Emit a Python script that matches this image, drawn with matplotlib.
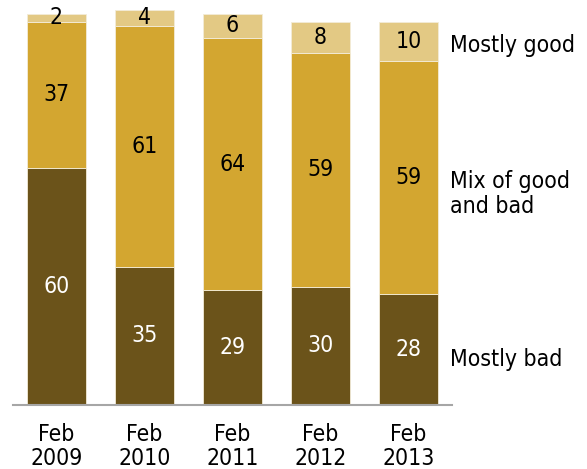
import matplotlib
matplotlib.use("Agg")
import matplotlib.pyplot as plt
from matplotlib import font_manager
import numpy as np

categories = ["Feb\n2009", "Feb\n2010", "Feb\n2011", "Feb\n2012", "Feb\n2013"]
mostly_bad = [60, 35, 29, 30, 28]
mix = [37, 61, 64, 59, 59]
mostly_good = [2, 4, 6, 8, 10]
series_labels = ["Mostly bad", "Mix of good\nand bad", "Mostly good"]

c_bad = "#6b531a"
c_mix = "#d3a630"
c_good = "#e3c984"

# use condensed DejaVu if installed
stretch = "normal"
fs = 15
for f in font_manager.fontManager.ttflist:
    if f.name == "DejaVu Sans" and f.stretch in ("condensed", "semi-condensed") and f.weight in (400, "normal") and f.style == "normal":
        stretch = "condensed"
        fs = 16.5
        break

plt.rcParams['font.family'] = ['DejaVu Sans']
plt.rcParams['font.stretch'] = stretch
fig = plt.figure(figsize=(5.87, 4.69), dpi=100)
ax = fig.add_axes([13/587, 64/469, 439/587, 395/469])

x = np.arange(len(categories))
w = 0.67
ax.bar(x, mostly_bad, w, color=c_bad, edgecolor="#f3ecd8", linewidth=0.6)
ax.bar(x, mix, w, bottom=mostly_bad, color=c_mix, edgecolor="#f3ecd8", linewidth=0.6)
bot3 = np.array(mostly_bad) + np.array(mix)
ax.bar(x, mostly_good, w, bottom=bot3, color=c_good, edgecolor="#f3ecd8", linewidth=0.6)

for i in range(len(x)):
    ax.text(x[i], mostly_bad[i] / 2, str(mostly_bad[i]),
            ha="center", va="center", color="white", fontsize=fs)
    ax.text(x[i], mostly_bad[i] + mix[i] / 2, str(mix[i]),
            ha="center", va="center", color="black", fontsize=fs)
    ax.text(x[i], bot3[i] + mostly_good[i] / 2, str(mostly_good[i]),
            ha="center", va="center", color="black", fontsize=fs)

ax.set_xlim(-0.494, 4.495)
ax.set_ylim(0, 100)
ax.set_xticks(x)
ax.set_xticklabels(categories, fontsize=fs, linespacing=1.08)
ax.tick_params(axis="x", length=0, pad=13)
ax.set_yticks([])
for s in ["top", "left", "right"]:
    ax.spines[s].set_visible(False)
ax.spines["bottom"].set_color("#a6a6a6")
ax.spines["bottom"].set_linewidth(1.5)

# right-side series labels
ax.text(4.475, 91, series_labels[2], ha="left", va="center", fontsize=fs, clip_on=False)
ax.text(4.475, 53.4, series_labels[1], ha="left", va="center", fontsize=fs, linespacing=1.15, clip_on=False)
ax.text(4.475, 11.6, series_labels[0], ha="left", va="center", fontsize=fs, clip_on=False)

fig.savefig("out.png", dpi=100)
